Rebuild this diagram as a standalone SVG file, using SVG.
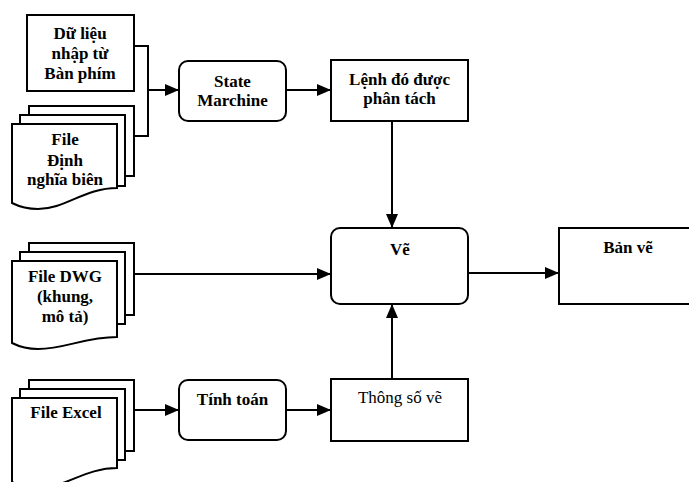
<svg xmlns="http://www.w3.org/2000/svg" width="689" height="482" viewBox="0 0 689 482">
<defs>
<style>
.b{fill:#fff;stroke:#000;stroke-width:2}
.t{font-family:"Liberation Serif","Times New Roman",serif;font-size:17px;font-weight:bold;text-anchor:middle;fill:#000}
.n{font-weight:normal}
.c{fill:none;stroke:#000;stroke-width:2}
</style>
<marker id="ah" markerUnits="userSpaceOnUse" markerWidth="14" markerHeight="12" refX="14" refY="6" orient="auto">
<path d="M0,0 L14,6 L0,12 z" fill="#000"/>
</marker>
</defs>
<rect width="689" height="482" fill="#fff"/>
<g id="nhap">
<rect class="b" x="27" y="15" width="107" height="76"/>
<text class="t" x="80" y="39">Dữ liệu</text>
<text class="t" x="80" y="59">nhập từ</text>
<text class="t" x="80" y="79">Bàn phím</text>
</g>
<g id="filedinhnghia">
<rect class="b" x="29" y="106" width="105" height="70"/>
<rect class="b" x="20" y="115" width="105" height="71"/>
<path class="b" d="M12,124 H117 V188 C85,188 65,209 38,209 C24,209 16,205 12,203 Z"/>
<text class="t" x="65" y="145">File</text>
<text class="t" x="65" y="166">Định</text>
<text class="t" x="65" y="185">nghĩa biên</text>
</g>
<g id="state">
<rect class="b" x="179" y="61" width="107" height="60" rx="9"/>
<text class="t" x="232.5" y="87">State</text>
<text class="t" x="232.5" y="106">Marchine</text>
</g>
<g id="lenh">
<rect class="b" x="331" y="60" width="137" height="61"/>
<text class="t" x="399.5" y="85">Lệnh đó được</text>
<text class="t" x="399.5" y="104">phân tách</text>
</g>
<g id="dwg">
<rect class="b" x="29" y="243" width="105" height="72"/>
<rect class="b" x="20" y="252" width="105" height="72"/>
<path class="b" d="M12,261 H117 V337 C85,337 65,349 38,349 C24,349 16,345 12,343 Z"/>
<text class="t" x="65" y="282">File DWG</text>
<text class="t" x="65" y="302">(khung,</text>
<text class="t" x="65" y="322">mô tả)</text>
</g>
<g id="ve">
<rect class="b" x="331" y="228" width="137" height="76" rx="9"/>
<text class="t" x="400" y="255">Vẽ</text>
</g>
<g id="banve">
<rect class="b" x="559" y="228" width="140" height="76"/>
<text class="t" x="628" y="253">Bản vẽ</text>
</g>
<g id="excel">
<rect class="b" x="29" y="380" width="105" height="71"/>
<rect class="b" x="20" y="389" width="105" height="71"/>
<path class="b" d="M12,398 H117 V468 C85,468 65,488 38,488 C24,488 16,484 12,482 Z"/>
<text class="t" x="66" y="418">File Excel</text>
</g>
<g id="tinhtoan">
<rect class="b" x="179" y="380" width="107" height="60" rx="9"/>
<text class="t" x="232.5" y="405">Tính toán</text>
</g>
<g id="thongso">
<rect class="b" x="331" y="379" width="137" height="62"/>
<text class="t n" x="400" y="403">Thông số vẽ</text>
</g>
<g id="connectors">
<path class="c" d="M134,46 H148 V136 H134"/>
<path class="c" d="M148,90 H179" marker-end="url(#ah)"/>
<path class="c" d="M286,90 H331" marker-end="url(#ah)"/>
<path class="c" d="M392,121 V228" marker-end="url(#ah)"/>
<path class="c" d="M134,274 H331" marker-end="url(#ah)"/>
<path class="c" d="M468,273 H559" marker-end="url(#ah)"/>
<path class="c" d="M392,379 V304" marker-end="url(#ah)"/>
<path class="c" d="M134,410 H179" marker-end="url(#ah)"/>
<path class="c" d="M286,410 H331" marker-end="url(#ah)"/>
</g>
</svg>
